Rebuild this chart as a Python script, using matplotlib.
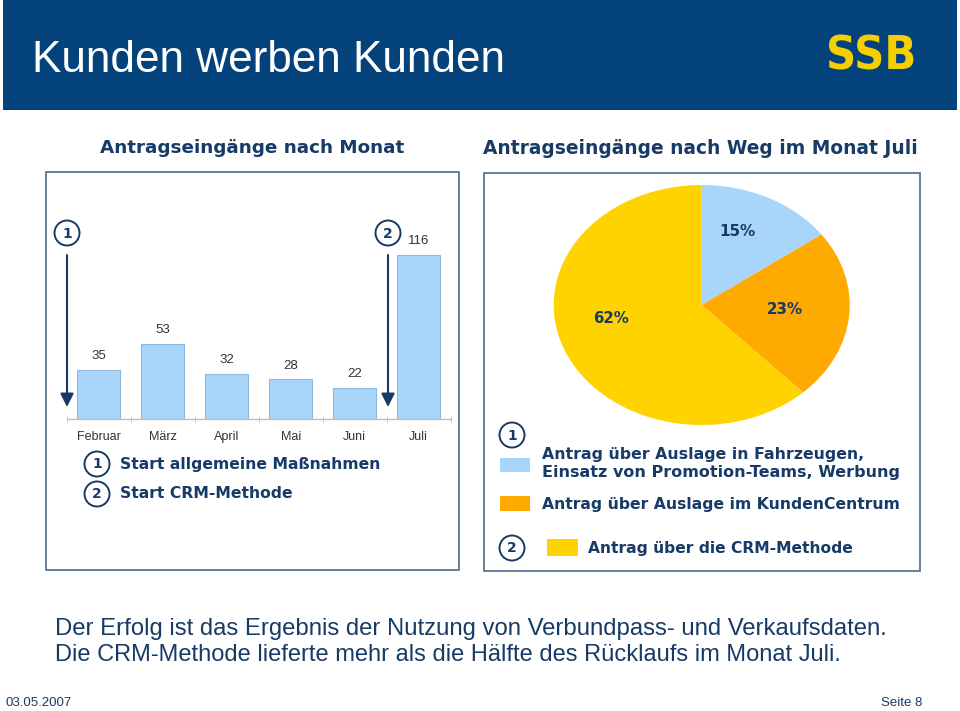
import matplotlib
matplotlib.use("Agg")
import matplotlib.pyplot as plt
from matplotlib.patches import Rectangle, Circle

# ---------------- data ----------------
months = ["Februar", "März", "April", "Mai", "Juni", "Juli"]
antraege = [35, 53, 32, 28, 22, 116]

pie_labels = ["Antrag über Auslage in Fahrzeugen,\nEinsatz von Promotion-Teams, Werbung",
              "Antrag über Auslage im KundenCentrum",
              "Antrag über die CRM-Methode"]
pie_shares = [15, 23, 62]

title = "Kunden werben Kunden"
sub_left = "Antragseingänge nach Monat"
sub_right = "Antragseingänge nach Weg im Monat Juli"
legend_left = ["Start allgemeine Maßnahmen", "Start CRM-Methode"]
bottom_lines = ["Der Erfolg ist das Ergebnis der Nutzung von Verbundpass- und Verkaufsdaten.",
                "Die CRM-Methode lieferte mehr als die Hälfte des Rücklaufs im Monat Juli."]
footer_left = "03.05.2007"
footer_right = "Seite 8"

# ---------------- style ----------------
NAVY = "#173A66"
BAND = "#03427A"
BOX = "#5A7592"
LIGHTBLUE = "#A9D5FB"
ORANGE = "#FFAA00"
YELLOW = "#FFD300"
GREY = "#333333"

W, H = 960, 711
fig = plt.figure(figsize=(W / 100, H / 100), dpi=100)
fig.patch.set_facecolor("white")

ov = fig.add_axes([0, 0, 1, 1], zorder=0)
ov.set_xlim(0, W)
ov.set_ylim(H, 0)
ov.axis("off")

renderer = fig.canvas.get_renderer()


def fit(t, width):
    bb = t.get_window_extent(renderer)
    t.set_fontsize(t.get_fontsize() * width / bb.width)
    return t


def fig_axes(x0, y0, x1, y1, **kw):
    return fig.add_axes([x0 / W, 1 - y1 / H, (x1 - x0) / W, (y1 - y0) / H], **kw)


# header band
ov.add_patch(Rectangle((3, 0), 954, 110, facecolor=BAND, edgecolor="none"))
fit(ov.text(32, 61, title, color="white", fontsize=30, family="Liberation Sans",
            va="center", ha="left"), 473)
logo = ov.text(871, 57, "SSB", color="#F6CF00", fontsize=34, family="DejaVu Sans",
               fontweight="bold", fontstretch="condensed", va="center", ha="center")
fit(logo, 90)

# subtitles
fit(ov.text(252, 148, sub_left, color=NAVY, fontsize=13, family="DejaVu Sans",
            fontweight="bold", ha="center", va="center"), 302)
fit(ov.text(700, 148, sub_right, color=NAVY, fontsize=13, family="DejaVu Sans",
            fontweight="bold", ha="center", va="center"), 429)

# panel boxes
ov.add_patch(Rectangle((46, 172), 413, 398, facecolor="none", edgecolor=BOX, lw=1.3))
ov.add_patch(Rectangle((484, 173), 436, 398, facecolor="none", edgecolor=BOX, lw=1.3))

# ---------------- bar chart ----------------
px_per_unit = 164 / 116.0
base_y, top_y = 419, 240
bx = fig_axes(66.7, top_y, 450.7, base_y, zorder=2)
bx.patch.set_alpha(0)
x = list(range(len(months)))
bars = bx.bar(x, antraege, width=0.67, color=LIGHTBLUE, edgecolor="#8DB9E0", linewidth=0.8)
bx.set_xlim(-0.5, len(months) - 0.5)
bx.set_ylim(0, (base_y - top_y) / px_per_unit)
for s in ["top", "right", "left"]:
    bx.spines[s].set_visible(False)
bx.spines["bottom"].set_color("#BFBFBF")
bx.spines["bottom"].set_linewidth(1.0)
bx.set_yticks([])
bx.set_xticks(x)
bx.set_xticklabels(months, fontsize=9, color=GREY, family="Liberation Sans")
bx.tick_params(axis="x", which="major", length=0, pad=9)
bx.set_xticks([i - 0.5 for i in range(len(months) + 1)], minor=True)
bx.tick_params(axis="x", which="minor", length=5, direction="inout", color="#BFBFBF")
for xi, v in zip(x, antraege):
    bx.annotate(str(v), (xi, v), xytext=(0, 10), textcoords="offset points",
                ha="center", va="center", fontsize=9.5, color=GREY, family="Liberation Sans")


def circ(cx, cy, label, r=12.5):
    ov.add_patch(Circle((cx, cy), r, facecolor="white", edgecolor=NAVY, lw=1.4, zorder=3))
    ov.text(cx, cy + 0.5, label, color=NAVY, fontsize=10, fontweight="bold",
            family="DejaVu Sans", ha="center", va="center", zorder=4)


# arrows with markers
for ax_x, lab in [(67, "1"), (388, "2")]:
    circ(ax_x, 233, lab)
    ov.annotate("", xy=(ax_x, 407), xytext=(ax_x, 255),
                arrowprops=dict(arrowstyle="-|>", color=NAVY, lw=1.5,
                                mutation_scale=20, shrinkA=0, shrinkB=0))

# left legend
circ(97, 464, "1")
circ(97, 494, "2")
fit(ov.text(120, 464, legend_left[0], color=NAVY, fontsize=12, fontweight="bold",
            family="DejaVu Sans", ha="left", va="center"), 260)
fit(ov.text(120, 494, legend_left[1], color=NAVY, fontsize=12, fontweight="bold",
            family="DejaVu Sans", ha="left", va="center"), 172)

# ---------------- pie ----------------
px = fig_axes(553.7, 185, 849.7, 425, zorder=2)
px.patch.set_alpha(0)
wedges, _ = px.pie(pie_shares, colors=[LIGHTBLUE, ORANGE, YELLOW], startangle=90,
                   counterclock=False, radius=1, wedgeprops=dict(linewidth=0))
px.set_aspect("auto")
px.set_xlim(-1, 1)
px.set_ylim(-1, 1)
pie_pos = [(0.24, 0.61), (0.56, -0.04), (-0.61, -0.11)]
for (lx, ly), v in zip(pie_pos, pie_shares):
    fit(px.text(lx, ly, f"{v}%", color=NAVY, fontsize=11, fontweight="bold",
                family="DejaVu Sans", ha="center", va="center"), 36)

# right legend
circ(512, 435, "1")
ov.add_patch(Rectangle((500, 457.5), 30, 14, facecolor=LIGHTBLUE, edgecolor="none"))
l1a, l1b = pie_labels[0].split("\n")
fit(ov.text(542, 455, l1a, color=NAVY, fontsize=11, fontweight="bold",
            family="DejaVu Sans", ha="left", va="center"), 318)
fit(ov.text(542, 473, l1b, color=NAVY, fontsize=11, fontweight="bold",
            family="DejaVu Sans", ha="left", va="center"), 356)
ov.add_patch(Rectangle((500, 496), 30, 15, facecolor=ORANGE, edgecolor="none"))
fit(ov.text(542, 504, pie_labels[1], color=NAVY, fontsize=11, fontweight="bold",
            family="DejaVu Sans", ha="left", va="center"), 357)
circ(512, 548, "2")
ov.add_patch(Rectangle((547, 539), 31, 17, facecolor=YELLOW, edgecolor="none"))
fit(ov.text(588, 548, pie_labels[2], color=NAVY, fontsize=11, fontweight="bold",
            family="DejaVu Sans", ha="left", va="center"), 265)

# bottom text
fit(ov.text(55, 629, bottom_lines[0], color=NAVY, fontsize=15, family="Liberation Sans",
            ha="left", va="center"), 835)
fit(ov.text(55, 655, bottom_lines[1], color=NAVY, fontsize=15, family="Liberation Sans",
            ha="left", va="center"), 786)

ov.text(5, 703, footer_left, color=NAVY, fontsize=9.5, family="Liberation Sans",
        ha="left", va="center")
ov.text(922, 703, footer_right, color=NAVY, fontsize=9.5, family="Liberation Sans",
        ha="right", va="center")

fig.savefig("out.png", dpi=100, facecolor="white")
